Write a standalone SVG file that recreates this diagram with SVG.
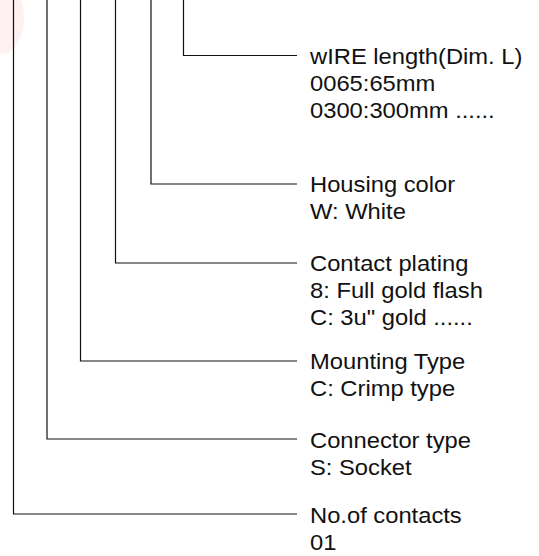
<svg xmlns="http://www.w3.org/2000/svg" width="539" height="556" viewBox="0 0 539 556">
<style>
.c{fill:none;stroke:#111;stroke-width:1.2}
.t{font-family:"Liberation Sans",Arial,sans-serif;font-size:22px;fill:#111}
</style>
<rect width="539" height="556" fill="#fff"/>
<ellipse cx="2" cy="18" rx="22" ry="36" fill="#fdf1f1"/>
<g id="connectors">
<path class="c" d="M183.5 0V55.5H297"/>
<path class="c" d="M151 0V184H297"/>
<path class="c" d="M115.5 0V263H297"/>
<path class="c" d="M80.5 0V361H297"/>
<path class="c" d="M47 0V439H297"/>
<path class="c" d="M13.5 0V514H297"/>
</g>
<g id="wire-length" class="t" transform="translate(310,0) scale(1.08,1)">
<text x="0" y="64">wIRE length(Dim. L)</text>
<text x="0" y="91">0065:65mm</text>
<text x="0" y="118">0300:300mm ......</text>
</g>
<g id="housing-color" class="t" transform="translate(310,0) scale(1.08,1)">
<text x="0" y="192">Housing color</text>
<text x="0" y="219">W: White</text>
</g>
<g id="contact-plating" class="t" transform="translate(310,0) scale(1.08,1)">
<text x="0" y="271">Contact plating</text>
<text x="0" y="298">8: Full gold flash</text>
<text x="0" y="325">C: 3u" gold ......</text>
</g>
<g id="mounting-type" class="t" transform="translate(310,0) scale(1.08,1)">
<text x="0" y="369">Mounting Type</text>
<text x="0" y="396">C: Crimp type</text>
</g>
<g id="connector-type" class="t" transform="translate(310,0) scale(1.08,1)">
<text x="0" y="448">Connector type</text>
<text x="0" y="475">S: Socket</text>
</g>
<g id="contacts" class="t" transform="translate(310,0) scale(1.08,1)">
<text x="0" y="523">No.of contacts</text>
<text x="0" y="550">01</text>
</g>
</svg>
